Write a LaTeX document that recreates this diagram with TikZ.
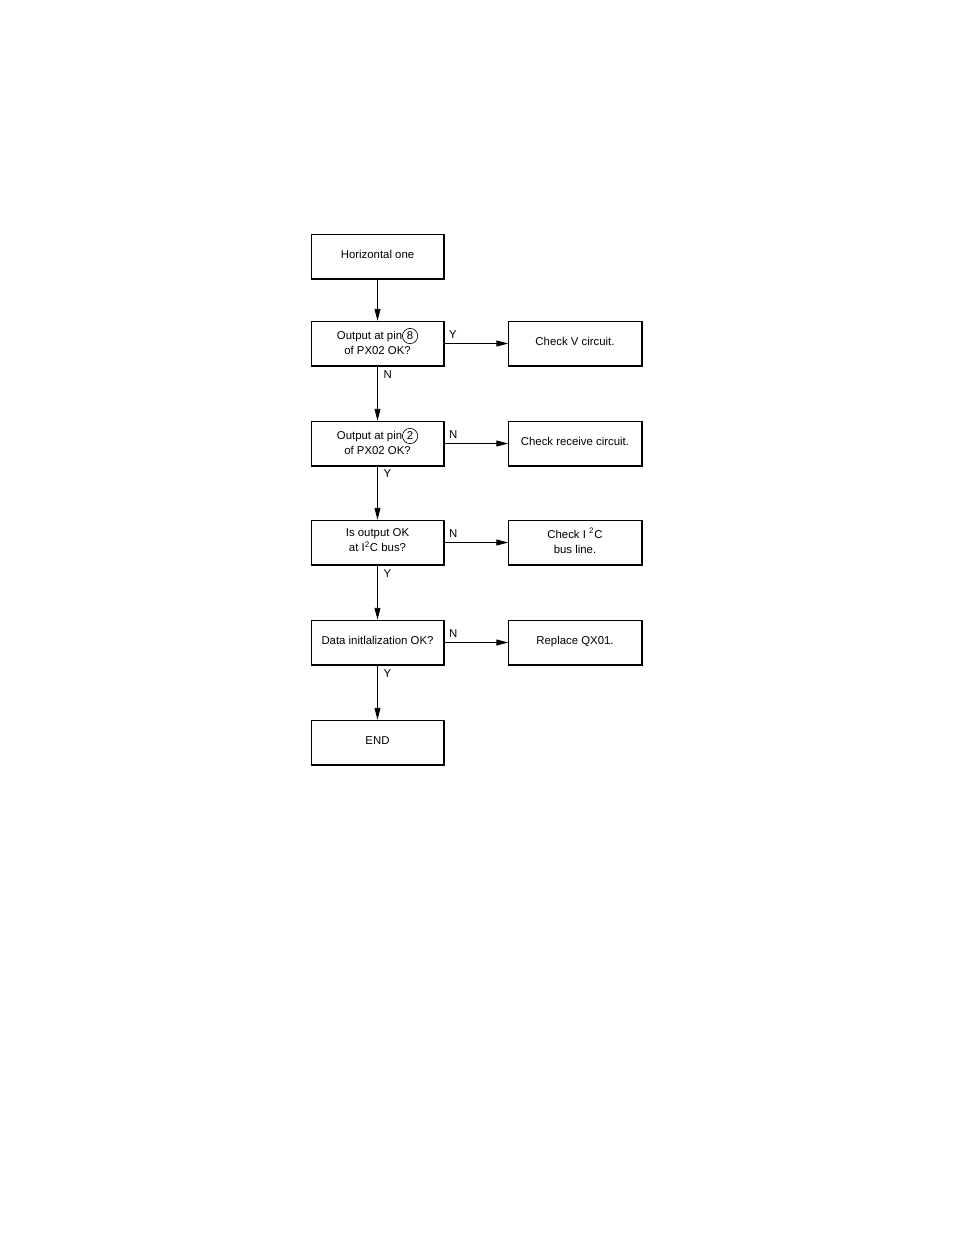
\documentclass[tikz,border=0pt]{standalone}
\usepackage{fontspec}
\setmainfont{Liberation Sans}
\usetikzlibrary{arrows.meta}

\newcommand{\pinno}[1]{\tikz[baseline=(p.base)]\node[circle,draw,line width=0.4pt,inner sep=0.5pt,minimum size=9.8pt](p){#1};}

\begin{document}
\begin{tikzpicture}[x=0.6415pt,y=-0.6415pt,
	stepbox/.style={draw,line width=0.45pt,minimum width=85.3pt,minimum height=28.9pt,
		inner sep=0pt,text depth=2.6pt,align=center,font=\fontsize{7.3}{9.6}\selectfont},
	flow/.style={line width=0.45pt,-{Triangle[length=7.5pt,width=3.8pt]}},
	lbl/.style={font=\fontsize{7.3}{8}\selectfont,inner sep=0pt}]

	\useasboundingbox (0,0) rectangle (954,1235);

	% ---- boxes, left column

	\node[stepbox] (start) at (377.5,256.5) {Horizontal one};
	\node[stepbox] (pin8)  at (377.5,343.5) {Output at pin\pinno{8}\\of PX02 OK?};
	\node[stepbox] (pin2)  at (377.5,443.5) {Output at pin\pinno{2}\\of PX02 OK?};
	\node[stepbox] (bus)   at (377.5,542.5) {Is output OK\\at I\textsuperscript{2}C bus?};
	\node[stepbox] (init)  at (377.5,642.5) {Data initlalization OK?};
	\node[stepbox] (end)   at (377.5,742.5) {END};

	% ---- boxes, right column

	\node[stepbox] (vcirc)   at (575,343.5) {Check V circuit.};
	\node[stepbox] (recv)    at (575,443.5) {Check receive circuit.};
	\node[stepbox] (busline) at (575,542.5) {Check I \textsuperscript{2}C\\bus line.};
	\node[stepbox] (qx)      at (575,642.5) {Replace QX01.};

	% ---- thick edges

	\foreach \n in {start,pin8,pin2,bus,init,end,vcirc,recv,busline,qx} {
		\draw[line width=1.3pt] (\n.south west) -- (\n.south east) -- (\n.north east);
	}

	% ---- connectors

	\draw[flow] (start) -- (pin8);
	\draw[flow] (pin8) -- (pin2);
	\draw[flow] (pin2) -- (bus);
	\draw[flow] (bus) -- (init);
	\draw[flow] (init) -- (end);

	\draw[flow] (pin8) -- (vcirc);
	\draw[flow] (pin2) -- (recv);
	\draw[flow] (bus) -- (busline);
	\draw[flow] (init) -- (qx);

	% ---- labels

	\node[lbl,anchor=west] at ([xshift=3.8pt,yshift=-5.5pt]pin8.south)  {N};
	\node[lbl,anchor=west] at ([xshift=3.8pt,yshift=-4.5pt]pin2.south)  {Y};
	\node[lbl,anchor=west] at ([xshift=3.8pt,yshift=-5pt]bus.south)     {Y};
	\node[lbl,anchor=west] at ([xshift=3.8pt,yshift=-5pt]init.south)    {Y};

	\node[lbl,anchor=west] at ([xshift=2.8pt,yshift=5.5pt]pin8.east)  {Y};
	\node[lbl,anchor=west] at ([xshift=2.8pt,yshift=5.5pt]pin2.east)  {N};
	\node[lbl,anchor=west] at ([xshift=2.8pt,yshift=5.5pt]bus.east)   {N};
	\node[lbl,anchor=west] at ([xshift=2.8pt,yshift=6pt]init.east)    {N};

\end{tikzpicture}
\end{document}
